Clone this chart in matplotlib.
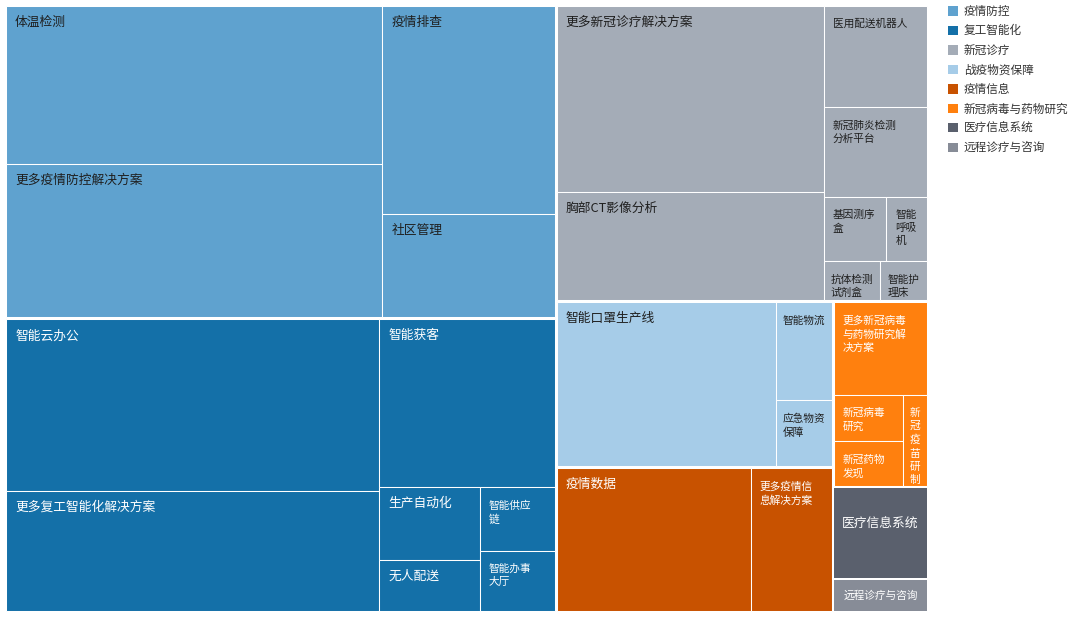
import matplotlib.pyplot as plt
from matplotlib.patches import Rectangle, Patch

plt.rcParams['font.family'] = ['Noto Sans CJK SC', 'DejaVu Sans']

# ---- data (arbitrary units) ----
group_names = ['疫情防控', '复工智能化', '新冠诊疗', '战疫物资保障', '疫情信息',
               '新冠病毒与药物研究', '医疗信息系统', '远程诊疗与咨询']
group_colors = ['#5fa2cf', '#1470a8', '#a4acb7', '#a6cce8', '#c85200',
                '#ff800e', '#5a606d', '#878c97']
group_text = ['#1f1f1f', 'white', '#1f1f1f', '#1f1f1f', 'white', 'white', 'white', 'white']

fangkong_names = ['体温检测', '更多疫情防控解决方案', '疫情排查', '社区管理']
fangkong_values = [57.9, 56.1, 35.0, 17.3]

fugong_names = ['智能云办公', '更多复工智能化解决方案', '智能获客', '生产自动化',
                '无人配送', '智能供应\n链', '智能办事\n大厅']
fugong_values = [62.3, 43.8, 28.7, 7.13, 4.98, 4.64, 4.4]

zhenliao_names = ['更多新冠诊疗解决方案', '胸部CT影像分析', '医用配送机器人',
                  '新冠肺炎检测\n分析平台', '基因测序\n盒', '智能\n呼吸\n机',
                  '抗体检测\n试剂盒', '智能护\n理床']
zhenliao_values = [48.5, 28.1, 10.2, 9.05, 3.95, 2.55, 2.15, 1.77]

wuzi_names = ['智能口罩生产线', '智能物流', '应急物资\n保障']
wuzi_values = [35.2, 5.4, 3.6]

xinxi_names = ['疫情数据', '更多疫情信\n息解决方案']
xinxi_values = [27.3, 11.4]

yanjiu_names = ['更多新冠病毒\n与药物研究解\n决方案', '新冠病毒\n研究', '新冠药物\n发现',
                '新\n冠\n疫\n苗\n研\n制']
yanjiu_values = [8.6, 3.2, 3.1, 2.2]

yiliao_value = 8.45
yuancheng_value = 3.0

children = [
    (fangkong_names, fangkong_values),
    (fugong_names, fugong_values),
    (zhenliao_names, zhenliao_values),
    (wuzi_names, wuzi_values),
    (xinxi_names, xinxi_values),
    (yanjiu_names, yanjiu_values),
    (None, [yiliao_value]),
    (None, [yuancheng_value]),
]

RATIO = 0.5 * (1 + 5 ** 0.5)


def worst(areas, row_area, fixed):
    if row_area == 0:
        return float('inf')
    f = fixed * fixed * RATIO
    sq = row_area * row_area
    return max(f * max(areas) / sq, sq / (f * min(areas)))


def position(row, areas, fixed, rect, gap, flush, out):
    horiz = fixed == rect[2]
    row_area = sum(areas[i] for i in row)
    other = row_area / fixed if fixed else 0
    avail = rect[3] if horiz else rect[2]
    if flush or other > avail:
        other = avail
    if horiz:
        last = rect[0]
        for k, i in enumerate(row):
            step = areas[i] / other
            remain = rect[0] + rect[2] - last
            mod = remain if (k == len(row) - 1 or remain < step) else step
            out[i] = (last + gap, rect[1] + gap, mod - 2 * gap, other - 2 * gap)
            last += mod
        rect[1] += other
        rect[3] -= other
    else:
        last = rect[1]
        for k, i in enumerate(row):
            step = areas[i] / other
            remain = rect[1] + rect[3] - last
            mod = remain if (k == len(row) - 1 or remain < step) else step
            out[i] = (rect[0] + gap, last + gap, other - 2 * gap, mod - 2 * gap)
            last += mod
        rect[0] += other
        rect[2] -= other


def squarify(values, x, y, w, h, gap=0.0):
    # echarts-like squarify, values already sorted descending
    total = float(sum(values))
    areas = [v / total * w * h for v in values]
    rect = [x, y, w, h]
    out = [None] * len(values)
    row = []
    fixed = min(w, h)
    best = float('inf')
    i = 0
    while i < len(values):
        row.append(i)
        score = worst([areas[j] for j in row], sum(areas[j] for j in row), fixed)
        if score <= best:
            best = score
            i += 1
        else:
            row.pop()
            position(row, areas, fixed, rect, gap, False, out)
            fixed = min(rect[2], rect[3])
            row = []
            best = float('inf')
    if row:
        position(row, areas, fixed, rect, gap, True, out)
    return out


def text_width(s, cw):
    return sum(cw * (0.6 if ord(c) < 128 else 1.0) for c in s)


W, H = 1080, 617
fig = plt.figure(figsize=(W / 100, H / 100), dpi=100)
ax = fig.add_axes([0, 0, 1, 1])
ax.set_xlim(0, W)
ax.set_ylim(H, 0)
ax.axis('off')

group_totals = [sum(v) for _, v in children]
group_rects = squarify(group_totals, 5, 5, 923, 607, gap=1.0)

CL, CS = 12.5, 10.7  # px per CJK char, big / small label
for g, (gx, gy, gw, gh) in enumerate(group_rects):
    names, vals = children[g]
    color = group_colors[g]
    tcol = group_text[g]
    if names is None:
        ax.add_patch(Rectangle((gx, gy), gw, gh, facecolor=color, edgecolor='none'))
        label = group_names[g]
        big = text_width(label, CL) + 18 <= gw
        ty = gy + gh * (0.4 if big else 0.5)
        ax.text(gx + gw / 2, ty, label, ha='center', va='center',
                fontsize=9.2 if big else 7.7, color=tcol, fontweight='medium')
        continue
    rects = squarify(vals, gx, gy, gw, gh)
    for name, (x, y, w, h) in zip(names, rects):
        ax.add_patch(Rectangle((x, y), w, h, facecolor=color,
                               edgecolor='white', linewidth=0.75))
        lines = name.split('\n')
        big = len(lines) == 1 and text_width(name, CL) + 18 <= w
        cw = CL if big else CS
        tw = max(text_width(l, cw) for l in lines)
        pad = min(9, max(2, (w - tw) / 2))
        ax.text(x + pad, y + (10 if big else 13), name, ha='left', va='top',
                fontsize=9.2 if big else 7.7, color=tcol, linespacing=1.4,
                fontweight='medium')

handles = [Patch(facecolor=c, edgecolor='none', label=n)
           for n, c in zip(group_names, group_colors)]
fig.legend(handles=handles, loc='upper left', bbox_to_anchor=(948 / W, 1 - 5 / H),
           frameon=False, fontsize=8.4, handlelength=0.85, handleheight=0.85,
           handletextpad=0.5, labelspacing=0.555, borderaxespad=0, borderpad=0,
           labelcolor='#333333')

fig.savefig('out.png', dpi=100)
